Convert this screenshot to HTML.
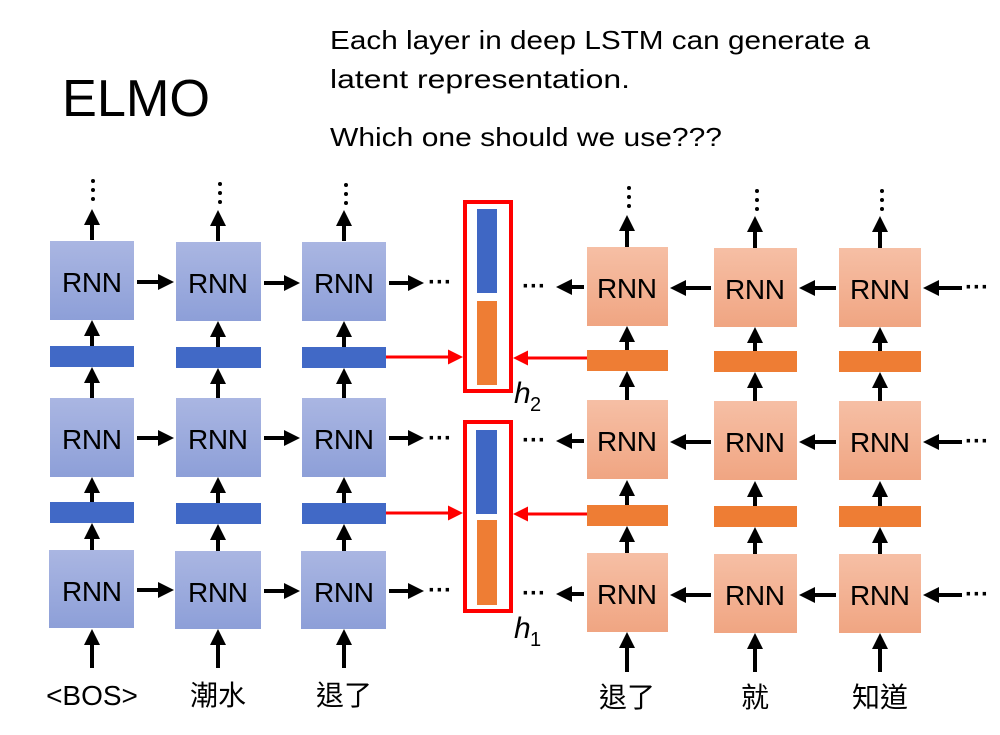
<!DOCTYPE html>
<html><head><meta charset="utf-8"><style>
html,body{margin:0;padding:0;background:#fff;}
svg{display:block;}
text{font-family:"Liberation Sans","Noto Sans CJK TC",sans-serif;}
</style></head><body>
<svg width="1000" height="735" viewBox="0 0 1000 735" xmlns="http://www.w3.org/2000/svg">
<defs>
<marker id="a" markerWidth="4" markerHeight="4" refX="3" refY="2" orient="auto" markerUnits="strokeWidth"><path d="M0,0 L4,2 L0,4 z" fill="#000"/></marker>
<marker id="r" markerWidth="5" markerHeight="5" refX="4" refY="2.5" orient="auto" markerUnits="strokeWidth"><path d="M0,0 L5,2.5 L0,5 z" fill="#f00"/></marker>
<linearGradient id="bl" x1="0" y1="0" x2="0" y2="1"><stop offset="0" stop-color="#aab6e2"/><stop offset="1" stop-color="#8d9fd8"/></linearGradient>
<linearGradient id="or" x1="0" y1="0" x2="0" y2="1"><stop offset="0" stop-color="#f6bfa5"/><stop offset="1" stop-color="#f0a582"/></linearGradient>
</defs>
<text x="62" y="116" font-size="52" textLength="148" lengthAdjust="spacingAndGlyphs">ELMO</text>
<text x="330" y="49" font-size="26" textLength="540" lengthAdjust="spacingAndGlyphs">Each layer in deep LSTM can generate a</text>
<text x="330" y="88" font-size="26" textLength="300" lengthAdjust="spacingAndGlyphs">latent representation.</text>
<text x="330" y="146" font-size="26" textLength="392" lengthAdjust="spacingAndGlyphs">Which one should we use???</text>

<g fill="url(#bl)">
<rect x="50" y="241" width="84" height="79"/><rect x="176" y="242" width="85" height="79"/><rect x="302" y="242" width="84" height="79"/>
<rect x="50" y="398" width="84" height="79"/><rect x="176" y="398" width="85" height="79"/><rect x="302" y="398" width="84" height="79"/>
<rect x="49" y="550" width="85" height="78"/><rect x="175" y="551" width="86" height="78"/><rect x="301" y="551" width="85" height="78"/>
</g>
<g fill="#4169c6">
<rect x="50" y="346" width="84" height="21"/><rect x="176" y="347" width="85" height="21"/><rect x="302" y="347" width="84" height="21"/>
<rect x="50" y="502" width="84" height="21"/><rect x="176" y="503" width="85" height="21"/><rect x="302" y="503" width="84" height="21"/>
</g>
<g fill="url(#or)">
<rect x="587" y="247" width="81" height="79"/><rect x="714" y="248" width="83" height="79"/><rect x="839" y="248" width="82" height="79"/>
<rect x="587" y="400" width="81" height="79"/><rect x="714" y="401" width="83" height="79"/><rect x="839" y="401" width="82" height="79"/>
<rect x="587" y="553" width="81" height="79"/><rect x="714" y="554" width="83" height="79"/><rect x="839" y="554" width="82" height="79"/>
</g>
<g fill="#ee7d34">
<rect x="587" y="350" width="81" height="21"/><rect x="714" y="351" width="83" height="21"/><rect x="839" y="351" width="82" height="21"/>
<rect x="587" y="505" width="81" height="21"/><rect x="714" y="506" width="83" height="21"/><rect x="839" y="506" width="82" height="21"/>
</g>
<g font-size="28" text-anchor="middle" lengthAdjust="spacingAndGlyphs">
<text x="92" y="292" textLength="60">RNN</text><text x="218" y="293" textLength="60">RNN</text><text x="344" y="293" textLength="60">RNN</text>
<text x="92" y="449" textLength="60">RNN</text><text x="218" y="449" textLength="60">RNN</text><text x="344" y="449" textLength="60">RNN</text>
<text x="92" y="601" textLength="60">RNN</text><text x="218" y="602" textLength="60">RNN</text><text x="344" y="602" textLength="60">RNN</text>
<text x="627" y="298" textLength="60">RNN</text><text x="755" y="299" textLength="60">RNN</text><text x="880" y="299" textLength="60">RNN</text>
<text x="627" y="451" textLength="60">RNN</text><text x="755" y="452" textLength="60">RNN</text><text x="880" y="452" textLength="60">RNN</text>
<text x="627" y="604" textLength="60">RNN</text><text x="755" y="605" textLength="60">RNN</text><text x="880" y="605" textLength="60">RNN</text>
</g>
<g font-size="28" text-anchor="middle">
<text x="92" y="705">&lt;BOS&gt;</text><text x="218" y="705">潮水</text><text x="344" y="705">退了</text>
<text x="627" y="707">退了</text><text x="755" y="707">就</text><text x="880" y="707">知道</text>
</g>
<g stroke="#000" stroke-width="4" marker-end="url(#a)">
<line x1="92" y1="240" x2="92" y2="213"/><line x1="218" y1="241" x2="218" y2="214"/><line x1="344" y1="241" x2="344" y2="214"/>
<line x1="92" y1="346" x2="92" y2="324"/><line x1="218" y1="347" x2="218" y2="325"/><line x1="344" y1="347" x2="344" y2="325"/>
<line x1="92" y1="398" x2="92" y2="371"/><line x1="218" y1="398" x2="218" y2="372"/><line x1="344" y1="398" x2="344" y2="372"/>
<line x1="92" y1="502" x2="92" y2="481"/><line x1="218" y1="503" x2="218" y2="481"/><line x1="344" y1="503" x2="344" y2="481"/>
<line x1="92" y1="550" x2="92" y2="527"/><line x1="218" y1="551" x2="218" y2="528"/><line x1="344" y1="551" x2="344" y2="528"/>
<line x1="92" y1="668" x2="92" y2="633"/><line x1="218" y1="668" x2="218" y2="633"/><line x1="344" y1="668" x2="344" y2="633"/>
<line x1="627" y1="247" x2="627" y2="219"/><line x1="755" y1="248" x2="755" y2="220"/><line x1="880" y1="248" x2="880" y2="220"/>
<line x1="627" y1="350" x2="627" y2="330"/><line x1="755" y1="351" x2="755" y2="331"/><line x1="880" y1="351" x2="880" y2="331"/>
<line x1="627" y1="400" x2="627" y2="375"/><line x1="755" y1="401" x2="755" y2="376"/><line x1="880" y1="401" x2="880" y2="376"/>
<line x1="627" y1="505" x2="627" y2="484"/><line x1="755" y1="506" x2="755" y2="485"/><line x1="880" y1="506" x2="880" y2="485"/>
<line x1="627" y1="553" x2="627" y2="530"/><line x1="755" y1="554" x2="755" y2="531"/><line x1="880" y1="554" x2="880" y2="531"/>
<line x1="627" y1="672" x2="627" y2="636"/><line x1="755" y1="672" x2="755" y2="637"/><line x1="880" y1="672" x2="880" y2="637"/>
<line x1="137" y1="282" x2="170" y2="282"/><line x1="264" y1="283" x2="296" y2="283"/><line x1="389" y1="283" x2="420" y2="283"/>
<line x1="137" y1="438" x2="170" y2="438"/><line x1="264" y1="438" x2="296" y2="438"/><line x1="389" y1="438" x2="420" y2="438"/>
<line x1="137" y1="590" x2="170" y2="590"/><line x1="264" y1="591" x2="296" y2="591"/><line x1="389" y1="591" x2="420" y2="591"/>
<line x1="584" y1="287" x2="560" y2="287"/><line x1="711" y1="288" x2="674" y2="288"/><line x1="836" y1="288" x2="803" y2="288"/><line x1="962" y1="288" x2="927" y2="288"/>
<line x1="584" y1="441" x2="560" y2="441"/><line x1="711" y1="442" x2="674" y2="442"/><line x1="836" y1="442" x2="803" y2="442"/><line x1="962" y1="442" x2="927" y2="442"/>
<line x1="584" y1="594" x2="560" y2="594"/><line x1="711" y1="595" x2="674" y2="595"/><line x1="836" y1="595" x2="803" y2="595"/><line x1="962" y1="595" x2="927" y2="595"/>
</g>
<g font-size="24" font-weight="bold">
<text x="428" y="290">···</text><text x="428" y="446">···</text><text x="428" y="598">···</text>
<text x="522" y="294">···</text><text x="522" y="448">···</text><text x="522" y="601">···</text>
<text x="965" y="295">···</text><text x="965" y="449">···</text><text x="965" y="602">···</text>
</g>
<g fill="#000">
<circle cx="93" cy="181" r="2"/><circle cx="93" cy="190" r="2"/><circle cx="93" cy="199" r="2"/>
<circle cx="220" cy="184" r="2"/><circle cx="220" cy="193" r="2"/><circle cx="220" cy="202" r="2"/>
<circle cx="346" cy="185" r="2"/><circle cx="346" cy="194" r="2"/><circle cx="346" cy="203" r="2"/>
<circle cx="629" cy="188" r="2"/><circle cx="629" cy="197" r="2"/><circle cx="629" cy="206" r="2"/>
<circle cx="757" cy="191" r="2"/><circle cx="757" cy="200" r="2"/><circle cx="757" cy="209" r="2"/>
<circle cx="882" cy="191" r="2"/><circle cx="882" cy="200" r="2"/><circle cx="882" cy="209" r="2"/>
</g>
<rect x="465" y="202" width="46" height="189" fill="none" stroke="#f00" stroke-width="4"/>
<rect x="477" y="209" width="20" height="84" fill="#3f67c4"/><rect x="477" y="301" width="20" height="84" fill="#ee7d34"/>
<rect x="465" y="422" width="46" height="189" fill="none" stroke="#f00" stroke-width="4"/>
<rect x="476" y="430" width="21" height="84" fill="#3f67c4"/><rect x="477" y="520" width="20" height="85" fill="#ee7d34"/>
<g stroke="#f00" stroke-width="3" marker-end="url(#r)">
<line x1="386" y1="357" x2="460" y2="357"/><line x1="587" y1="358" x2="516" y2="358"/>
<line x1="386" y1="513" x2="460" y2="513"/><line x1="587" y1="514" x2="516" y2="514"/>
</g>
<g font-family="Liberation Serif,serif" font-style="italic">
<text x="514" y="403" font-size="30">h</text><text x="530" y="411" font-size="20" font-style="normal">2</text>
<text x="514" y="638" font-size="30">h</text><text x="530" y="646" font-size="20" font-style="normal">1</text>
</g>
</svg>
</body></html>
